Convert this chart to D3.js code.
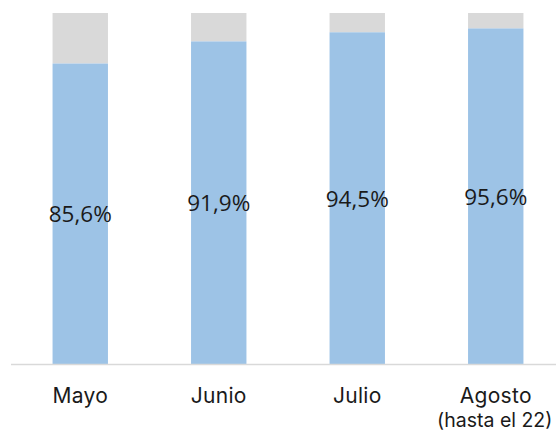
<!DOCTYPE html>
<html><head><meta charset="utf-8">
<script src="https://cdn.jsdelivr.net/npm/d3@7"></script>
<style>body{margin:0;background:#fff}svg{display:block}</style>
</head><body>
<svg id="c" width="556" height="435"></svg>
<script>
const categories = ["Mayo", "Junio", "Julio", "Agosto"];
const subLabels = ["", "", "", "(hasta el 22)"];
const blueValues = [85.6, 91.9, 94.5, 95.6];
const valueLabels = ["85,6%", "91,9%", "94,5%", "95,6%"];

const svg = d3.select("#c");
const x = d3.scaleBand().domain(categories).range([11, 565]).paddingInner(0.6).paddingOuter(0.3);
const y = d3.scaleLinear().domain([0, 100]).range([364, 13]);

const data = categories.map((c, i) => ({c, v: blueValues[i], lab: valueLabels[i], sub: subLabels[i]}));

svg.selectAll("rect.rest").data(data).join("rect")
  .attr("x", d => x(d.c)).attr("width", x.bandwidth())
  .attr("y", y(100)).attr("height", d => y(d.v) - y(100))
  .attr("fill", "#D9D9D9");
svg.selectAll("rect.val").data(data).join("rect")
  .attr("x", d => x(d.c)).attr("width", x.bandwidth())
  .attr("y", d => y(d.v)).attr("height", d => y(0) - y(d.v))
  .attr("fill", "#9DC3E6");

const ax = svg.append("g").attr("transform", "translate(0,364)").call(d3.axisBottom(x).tickSize(0).tickFormat(""));
ax.select(".domain").attr("stroke", "#D9D9D9").attr("stroke-width", 1.5).attr("d", "M11,0.5H556");

svg.selectAll("text.v").data(data).join("text")
  .attr("x", d => x(d.c) + x.bandwidth()/2)
  .attr("y", d => (y(d.v) + y(0))/2 + 8.5)
  .attr("text-anchor", "middle")
  .attr("font-family", "'Open Sans', sans-serif").attr("font-size", 22.5)
  .attr("fill", "#1a1a1a")
  .text(d => d.lab);

svg.selectAll("text.cat").data(data).join("text")
  .attr("x", d => x(d.c) + x.bandwidth()/2)
  .attr("y", 403)
  .attr("text-anchor", "middle")
  .attr("font-family", "Inter, sans-serif").attr("font-size", 21)
  .attr("letter-spacing", 0.3)
  .attr("fill", "#1a1a1a")
  .text(d => d.c);
svg.selectAll("text.sub").data(data.filter(d => d.sub)).join("text")
  .attr("x", d => x(d.c) + x.bandwidth()/2 - 1)
  .attr("y", 427)
  .attr("text-anchor", "middle")
  .attr("font-family", "Inter, sans-serif").attr("font-size", 19.5)
  .attr("fill", "#1a1a1a")
  .text(d => d.sub);
</script>
</body></html>
